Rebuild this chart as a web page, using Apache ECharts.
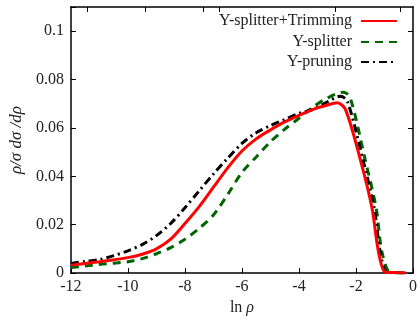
<!DOCTYPE html>
<html>
<head>
<meta charset="utf-8">
<script src="https://cdn.jsdelivr.net/npm/echarts@6/dist/echarts.min.js"></script>
<style>html,body{margin:0;padding:0;background:#fff}#c{width:420px;height:321px}</style>
</head>
<body>
<div id="c"></div>
<script>
var seriesNames = ['Y-splitter+Trimming', 'Y-splitter', 'Y-pruning'];

var xTrim = [-12,-11.5,-11,-10.5,-10,-9.5,-9,-8.5,-8,-7.5,-7,-6.5,-6,-5.5,-5,-4.5,-4,-3.5,-3,-2.66,-2.37,-1.85,-1.44,-1.21,-0.98,-0.7,-0.4,-0.25];
var yTrim = [0.0033,0.0040,0.0047,0.0055,0.0064,0.0078,0.0100,0.0140,0.0205,0.0275,0.0355,0.0435,0.0505,0.0555,0.0592,0.0625,0.0652,0.0677,0.0695,0.0704,0.0677,0.0470,0.0270,0.0087,0.0004,0.0002,0.0001,0.0];

var xSplit = [-12,-11.5,-11,-10.5,-10,-9.5,-9,-8.5,-8,-7.5,-7,-6.5,-6,-5.5,-5,-4.5,-4,-3.5,-3,-2.43,-2.2,-1.68,-1.29,-1.09,-0.8,-0.5,-0.25];
var ySplit = [0.0023,0.0029,0.0036,0.0041,0.0047,0.0060,0.0080,0.0105,0.0140,0.0185,0.0240,0.0325,0.0416,0.0480,0.0543,0.0595,0.0640,0.0687,0.0724,0.0748,0.0724,0.0470,0.0268,0.0088,0.0002,0.0001,0.0];

var xPrune = [-12,-11.5,-11,-10.5,-10,-9.5,-9,-8.5,-8,-7.5,-7,-6.5,-6,-5.5,-5,-4.5,-4,-3.5,-3,-2.55,-2.3,-1.76,-1.36,-1.15,-0.91,-0.5,-0.25];
var yPrune = [0.0040,0.0048,0.0056,0.0072,0.0092,0.0118,0.0155,0.0205,0.0270,0.0340,0.0410,0.0475,0.0536,0.0580,0.0610,0.0635,0.0660,0.0677,0.0708,0.0731,0.0710,0.0470,0.0268,0.0088,0.0002,0.0001,0.0];

var xTickLabels = [-12,-10,-8,-6,-4,-2,0];
var yTickLabels = [0,0.02,0.04,0.06,0.08,0.1];
var topTicks = [-11.41,-9.40,-7.37,-6.79,-2.72,-0.45];

function pairs(xs, ys){ return xs.map(function(x,i){ return [x, ys[i]]; }); }

var FONT = 'Liberation Serif';
var chart = echarts.init(document.getElementById('c'), null, {renderer:'canvas'});

function legendAt(name, top){
  return {
    data:[name], right:22, top:top, orient:'vertical', align:'right',
    itemWidth:36, itemHeight:14, padding:0,
    itemStyle:{opacity:0},
    textStyle:{fontFamily:FONT, fontSize:16, color:'#222', padding:[0,4,0,0]},
    selectedMode:false
  };
}

chart.setOption({
  animation:false,
  backgroundColor:'#fff',
  grid:{left:69, right:7, top:7, bottom:41, show:false},
  legend:[legendAt(seriesNames[0], 13), legendAt(seriesNames[1], 34), legendAt(seriesNames[2], 54)],
  xAxis:[{
    type:'value', min:-12, max:0, interval:2, position:'bottom',
    name:'{a|ln} {b|ρ}', nameLocation:'middle', nameGap:26,
    nameTextStyle:{fontFamily:FONT, fontSize:16, color:'#222',
      rich:{a:{fontFamily:FONT,fontSize:16,color:'#222'}, b:{fontFamily:FONT,fontSize:16,fontStyle:'italic',color:'#222'}}},
    axisLine:{show:true, onZero:false, lineStyle:{color:'#000', width:1.5}},
    axisTick:{show:true, inside:true, length:5, lineStyle:{color:'#000', width:1}},
    axisLabel:{fontFamily:FONT, fontSize:16, color:'#222', margin:6, customValues:xTickLabels},
    splitLine:{show:false}
  },{
    type:'value', min:-12, max:0, position:'top',
    axisLine:{show:true, onZero:false, lineStyle:{color:'#000', width:1.5}},
    axisTick:{show:true, inside:true, length:5, customValues:topTicks, lineStyle:{color:'#000', width:1}},
    axisLabel:{show:false},
    splitLine:{show:false}
  }],
  yAxis:[{
    type:'value', min:0, max:0.11, interval:0.02, position:'left',
    name:'ρ/σ dσ /dρ', nameLocation:'middle', nameGap:43, nameRotate:90,
    nameTextStyle:{fontFamily:FONT, fontSize:17, fontStyle:'italic', color:'#222'},
    axisLine:{show:true, onZero:false, lineStyle:{color:'#000', width:1.5}},
    axisTick:{show:true, inside:true, length:5, lineStyle:{color:'#000', width:1}},
    axisLabel:{fontFamily:FONT, fontSize:16, color:'#222', margin:7, customValues:yTickLabels},
    splitLine:{show:false}
  },{
    type:'value', min:0, max:0.11, interval:0.02, position:'right',
    axisLine:{show:true, onZero:false, lineStyle:{color:'#000', width:1.5}},
    axisTick:{show:true, inside:true, length:5, customValues:yTickLabels, lineStyle:{color:'#000', width:1}},
    axisLabel:{show:false},
    splitLine:{show:false}
  }],
  series:[{
    name:seriesNames[0], type:'line', data:pairs(xTrim,yTrim), showSymbol:false, symbol:'none',
    smooth:0.3,
    lineStyle:{color:'#ff0000', width:3}, itemStyle:{color:'#ff0000'}, z:3
  },{
    name:seriesNames[1], type:'line', data:pairs(xSplit,ySplit), showSymbol:false, symbol:'none',
    smooth:0.3,
    lineStyle:{color:'#006400', width:3, type:[8,6]}, itemStyle:{color:'#006400'}, z:2
  },{
    name:seriesNames[2], type:'line', data:pairs(xPrune,yPrune), showSymbol:false, symbol:'none',
    smooth:0.3,
    lineStyle:{color:'#000000', width:3, type:[8,4,2,4]}, itemStyle:{color:'#000000'}, z:2
  }]
});
</script>
</body>
</html>
